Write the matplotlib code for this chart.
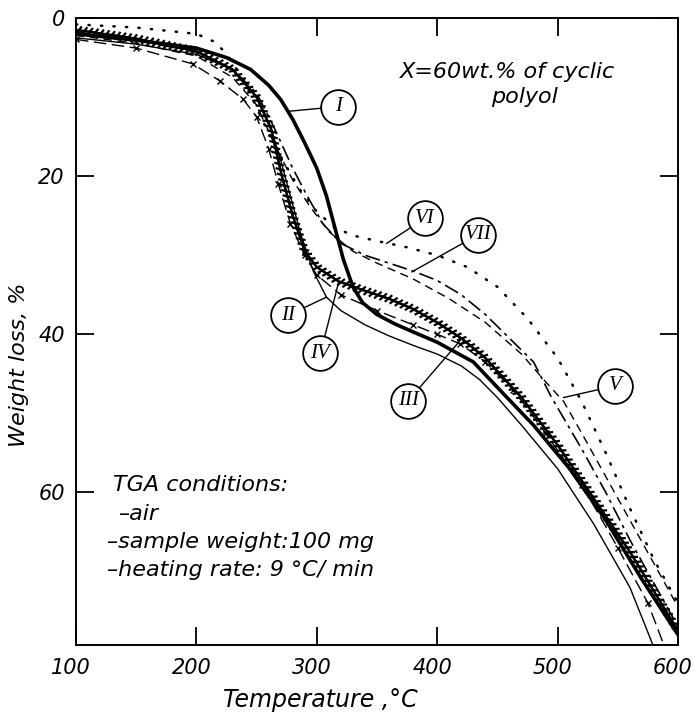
import matplotlib
matplotlib.use("Agg")
import matplotlib.pyplot as plt
import matplotlib.patheffects as pe
import matplotlib.transforms as mtransforms

# ---------------- data ----------------
T_I   = [100,150,200,225,245,260,270,280,290,300,308,315,322,330,338,350,365,380,400,430,458,480,510,540,570,600]
W_I   = [2.0,2.8,3.8,5.0,6.5,8.5,10.3,12.8,15.8,19,22.5,26.5,30.5,34,36,37.5,38.7,39.7,41,43.5,48,51.5,57,63.5,71,78]

T_II  = [100,150,200,230,250,262,270,278,287,297,308,320,340,360,380,400,420,435,450,470,500,530,560,581]
W_II  = [2.5,3.3,4.6,6.5,10,14,18,22.5,27.5,32,35.3,37,38.8,40.2,41.4,42.5,44,45.7,48,51.5,57,64,72,80]

T_III = [100,150,197,220,239,250,260,268,278,290,300,320,350,380,400,419,440,463,490,520,550,575,590]
W_III = [2.7,3.8,5.8,8,10.3,12.5,16.5,21,26,30,32.5,35,37,38.8,40,41.2,43.5,47,52.5,59,67,74,80]

T_IV  = [100,150,200,230,250,262,271,280,290,300,318,340,360,380,400,420,440,470,500,520,540,560,580,600]
W_IV  = [1.5,2.6,4.2,6.5,10,14,20,25,29.5,31.5,33.3,34.5,35.5,36.8,38.5,40.5,43,48,54,58.5,63,67.5,72.5,77.5]

T_V   = [100,150,200,230,250,265,280,295,310,330,350,380,410,440,470,490,505,520,540,560,580,600]
W_V   = [2.2,3.2,4.8,7.5,11,16,20.5,24,27,29.5,31,33,35.5,38.5,42.5,46,48.5,52.5,58,63.5,69,74.5]

T_VI  = [100,150,200,215,225,240,255,270,285,300,315,330,350,375,400,425,450,475,500,520,540,560,580,600]
W_VI  = [0.8,1.2,2.0,3.0,4.5,8,13,17.5,21.5,24.5,26.5,27.5,28.2,29,30,31.5,34,38,43,48.5,55,62,68.5,74]

T_VII = [100,150,200,230,250,265,280,292,305,320,340,360,380,400,420,440,460,480,495,520,540,560,580,600]
W_VII = [1.8,2.8,4.3,6.5,9.5,14,19,22.5,26,28.5,30,31,32,33.2,35,37.5,40.5,43.5,48,54.5,60,66,71.5,77]

# curve labels: name, circle position, leader-line end on the curve
label_names = ["I", "II", "III", "IV", "V", "VI", "VII"]
label_circ_T = [318, 276, 376, 303, 548, 390, 434]
label_circ_W = [11.2, 37.6, 48.4, 42.4, 46.5, 25.3, 27.4]
label_end_T  = [276, 308, 419, 318, 505, 358, 379]
label_end_W  = [11.8, 35.3, 40.8, 33.5, 48.0, 28.5, 32.1]

x_ticks = [100, 200, 300, 400, 500, 600]
y_ticks = [0, 20, 40, 60]

# ---------------- figure ----------------
plt.rcParams['font.family'] = ['DejaVu Sans']
fig = plt.figure(figsize=(6.94, 7.22), dpi=100)
ax = fig.add_axes([0.1095, 0.1066, 0.977 - 0.1095, 0.975 - 0.1066])

k = 'black'
ax.plot(T_I, W_I, color=k, lw=2.6, solid_capstyle='round', solid_joinstyle='round')
ax.plot(T_II, W_II, color=k, lw=1.0)
ax.plot(T_III, W_III, color=k, lw=1.0, dashes=(9, 4), marker='x', ms=4, mew=1.0)
ax.plot(T_IV, W_IV, color=k, lw=1.6,
        path_effects=[pe.withTickedStroke(spacing=4, angle=60, length=0.7),
                      pe.withTickedStroke(spacing=4, angle=-120, length=0.7)])
ax.plot(T_V, W_V, color=k, lw=1.0, dashes=(6, 4))
ax.plot(T_VI, W_VI, color=k, lw=1.8, dashes=(0.5, 4.5), dash_capstyle='round')
ax.plot(T_VII, W_VII, color=k, lw=1.2, dashes=(9, 3, 2, 3))

for n, ct, cw, et, ew in zip(label_names, label_circ_T, label_circ_W, label_end_T, label_end_W):
    ax.plot([et, ct], [ew, cw], color=k, lw=1.0, zorder=4)
    ax.plot([ct], [cw], marker='o', ms=25, mfc='white', mec=k, mew=1.3, zorder=5)
    ax.text(ct, cw, n, ha='center', va='center', fontsize=15, fontstyle='italic',
            family='Liberation Serif', zorder=6)

ax.set_xlim(100, 600)
ax.set_ylim(79.3, 0)
ax.set_xticks(x_ticks)
ax.set_yticks(y_ticks)
ax.set_xticklabels([str(v) for v in x_ticks], fontsize=15, fontstyle='italic')
ax.set_yticklabels([str(v) for v in y_ticks], fontsize=15, fontstyle='italic')
ax.tick_params(direction='in', length=13, width=1.3, top=True, right=True)
ax.tick_params(axis='x', pad=9)
ax.tick_params(axis='y', pad=8)
shift = mtransforms.ScaledTranslation(-0.05, 0, fig.dpi_scale_trans)
for lab in ax.get_xticklabels():
    lab.set_transform(lab.get_transform() + shift)
for s in ax.spines.values():
    s.set_linewidth(1.4)

ax.set_xlabel('Temperature ,°C', fontsize=17, fontstyle='italic')
ax.xaxis.set_label_coords(0.405, -0.068)
ax.set_ylabel('Weight loss, %', fontsize=16, fontstyle='italic')
ax.yaxis.set_label_coords(-0.078, 0.447)

tt = dict(fontsize=16, fontstyle='italic', transform=ax.transAxes)
ax.text(0.538, 0.905, 'X=60wt.% of cyclic', **tt)
ax.text(0.745, 0.865, 'polyol', ha='center', **tt)
ax.text(0.061, 0.245, 'TGA conditions:', **tt)
ax.text(0.07, 0.2, '–air', **tt)
ax.text(0.052, 0.155, '–sample weight:100 mg', **tt)
ax.text(0.052, 0.11, '–heating rate: 9 °C/ min', **tt)

fig.savefig('out.png', dpi=100)
